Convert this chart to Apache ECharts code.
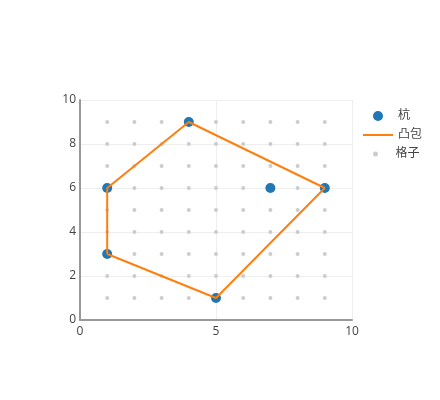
<!DOCTYPE html>
<html>
<head>
<meta charset="utf-8">
<script src="https://cdn.jsdelivr.net/npm/echarts@6/dist/echarts.min.js"></script>
<style>
  html, body { margin: 0; padding: 0; background: #fff; }
  #chart { width: 440px; height: 400px; }
</style>
</head>
<body>
<div id="chart"></div>
<script>
// 杭 (stakes)
const stakeX = [1, 1, 4, 5, 7, 9]
const stakeY = [3, 6, 9, 1, 6, 6]
// convex hull, closed
const hullX = [1, 1, 4, 9, 5, 1]
const hullY = [3, 6, 9, 6, 1, 3]
// lattice points
const gridXs = [1, 2, 3, 4, 5, 6, 7, 8, 9]
const gridYs = [1, 2, 3, 4, 5, 6, 7, 8, 9]
const xTicks = [0, 5, 10]
const yTicks = [0, 2, 4, 6, 8, 10]

const latticeData = []
gridXs.forEach(x => gridYs.forEach(y => latticeData.push([x, y])))

const font = '"Open Sans", "Noto Sans CJK JP", sans-serif'
const legendText = { color: '#444', fontSize: 12, fontFamily: font }

const chart = echarts.init(document.getElementById('chart'), null, { renderer: 'canvas' })

chart.setOption({
  animation: false,
  grid: { left: 80, right: 88, top: 100, bottom: 80 },
  legend: [
    { data: ['杭'], left: 373, top: 110, padding: 0, icon: 'circle', itemWidth: 30, itemHeight: 10, textStyle: legendText },
    { data: ['凸包'], left: 363, top: 129, padding: 0, icon: 'rect', itemWidth: 30, itemHeight: 2, textStyle: legendText },
    { data: ['格子'], left: 373, top: 148, padding: 0, icon: 'circle', itemWidth: 30, itemHeight: 5, textStyle: legendText }
  ],
  xAxis: {
    type: 'value',
    min: xTicks[0],
    max: xTicks[xTicks.length - 1],
    interval: xTicks[1] - xTicks[0],
    axisLine: { show: true, lineStyle: { color: '#999', width: 2 } },
    axisTick: { show: false },
    axisLabel: { color: '#444', fontSize: 12, fontFamily: font, margin: 6 },
    splitLine: { show: true, lineStyle: { color: '#eee', width: 1 } }
  },
  yAxis: {
    type: 'value',
    min: yTicks[0],
    max: yTicks[yTicks.length - 1],
    interval: yTicks[1] - yTicks[0],
    axisLine: { show: true, lineStyle: { color: '#999', width: 2 } },
    axisTick: { show: false },
    axisLabel: { color: '#444', fontSize: 12, fontFamily: font, margin: 4 },
    splitLine: { show: true, lineStyle: { color: '#eee', width: 1 } }
  },
  series: [
    {
      name: '格子',
      type: 'scatter',
      data: latticeData,
      symbolSize: 4,
      itemStyle: { color: '#ccc', opacity: 1 },
      z: 1
    },
    {
      name: '凸包',
      type: 'line',
      data: hullX.map((x, i) => [x, hullY[i]]),
      symbol: 'none',
      lineStyle: { color: '#ff7f0e', width: 2 },
      itemStyle: { color: '#ff7f0e' },
      z: 3
    },
    {
      name: '杭',
      type: 'scatter',
      data: stakeX.map((x, i) => [x, stakeY[i]]),
      symbolSize: 10,
      itemStyle: { color: '#1f77b4', opacity: 1 },
      z: 2
    }
  ]
})
</script>
</body>
</html>
